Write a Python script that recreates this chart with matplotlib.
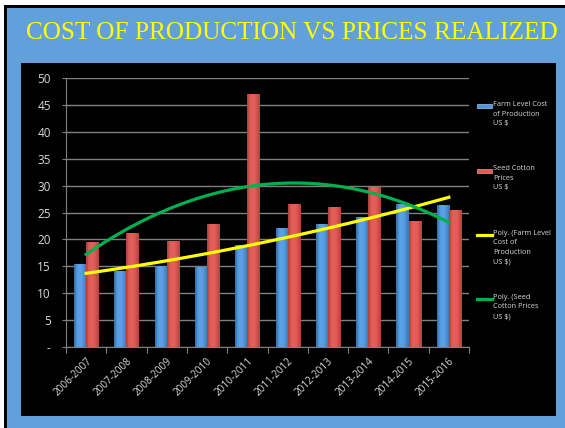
import numpy as np
import matplotlib
matplotlib.use('Agg')
import matplotlib.pyplot as plt
from matplotlib.patches import Rectangle
from matplotlib.lines import Line2D

# dados
safras = ['2006-2007', '2007-2008', '2008-2009', '2009-2010', '2010-2011',
          '2011-2012', '2012-2013', '2013-2014', '2014-2015', '2015-2016']
custo = [15.4, 14.1, 15.1, 14.9, 19.0, 22.1, 22.9, 24.2, 26.6, 26.4]
preco = [19.5, 21.2, 19.7, 22.9, 47.0, 26.6, 26.0, 29.8, 23.4, 25.5]
yticks = [0, 5, 10, 15, 20, 25, 30, 35, 40, 45, 50]
ylabels = ['-', '5', '10', '15', '20', '25', '30', '35', '40', '45', '50']

W, H = 565, 428
fig = plt.figure(figsize=(W / 100, H / 100), dpi=100)
fig.patch.set_facecolor('white')

def box(x0, y0, x1, y1, cor):
    # retângulo em pixels (origem no topo)
    fig.patches.append(Rectangle((x0 / W, 1 - y1 / H), (x1 - x0) / W, (y1 - y0) / H,
                                 transform=fig.transFigure, facecolor=cor,
                                 edgecolor='none', zorder=-5))

box(4, 5, W, H, 'black')
box(7, 8, W, H, '#62a0dc')
box(21, 63, 556, 416, 'black')

fig.text(292 / W, 1 - 33 / H, 'COST OF PRODUCTION VS PRICES REALIZED',
         family='Liberation Serif', color='#ffff00', fontsize=18.2,
         ha='center', va='center')

ax = fig.add_axes([66 / W, 1 - 347 / H, (469 - 66) / W, (347 - 78) / H])
ax.set_zorder(2)
ax.set_facecolor('black')

x = np.arange(len(safras))
w = 0.3

def barras(pos, vals, escuro, claro):
    bars = ax.bar(pos, vals, width=w, color=claro, edgecolor='none', zorder=2)
    grad = np.array([[0.2, 0.75, 0.95, 1.0, 0.95, 0.8, 0.55, 0.3]])
    cmap = matplotlib.colors.LinearSegmentedColormap.from_list('g', [escuro, claro])
    for b in bars:
        im = ax.imshow(grad, cmap=cmap, aspect='auto', zorder=2.1, vmin=0, vmax=1,
                       extent=[b.get_x(), b.get_x() + b.get_width(), 0, b.get_height()])
        im.set_clip_path(b)
    return bars

barras(x - w / 2, custo, '#2f68a4', '#5aa2e6')
barras(x + w / 2, preco, '#a83c36', '#e4605a')

# linhas de tendência polinomiais (ordem 2)
xs = np.linspace(0, len(safras) - 1, 200)
ax.plot(xs, np.polyval(np.polyfit(x, custo, 2), xs), color='#ffff00', lw=2.3, zorder=3)
ax.plot(xs, np.polyval(np.polyfit(x, preco, 2), xs), color='#00b050', lw=2.3, zorder=3)

ax.set_xlim(-0.5, len(safras) - 0.5)
ax.set_ylim(0, 50)
ax.set_yticks(yticks)
ax.set_yticklabels(ylabels)
ax.yaxis.grid(True, color='#808080', lw=1.0, zorder=0)
ax.set_axisbelow(True)
ax.set_xticks(np.arange(-0.5, len(safras), 1.0))
ax.set_xticklabels([])
ax.set_xticks(x, minor=True)
ax.set_xticklabels(safras, minor=True, rotation=45, ha='right', va='top',
                   rotation_mode='anchor', family='Open Sans', fontsize=7.2,
                   color='#d9d9d9')
ax.tick_params(axis='x', which='major', length=4, color='#808080', direction='out')
ax.tick_params(axis='x', which='minor', length=0, pad=6)
ax.tick_params(axis='y', length=3, color='#808080', pad=8, labelcolor='#d9d9d9',
               labelsize=8.5)
for lab in ax.get_yticklabels():
    lab.set_family('Open Sans')
for s in ['top', 'right']:
    ax.spines[s].set_visible(False)
for s in ['left', 'bottom']:
    ax.spines[s].set_color('#808080')

# legenda manual
itens = [('bar', '#4f94dc', 'Farm Level Cost\nof Production\nUS \\$'),
         ('bar', '#e05a52', 'Seed Cotton\nPrices\nUS \\$'),
         ('line', '#ffff00', 'Poly. (Farm Level\nCost of\nProduction\nUS \\$)'),
         ('line', '#00b050', 'Poly. (Seed\nCotton Prices\nUS \\$)')]
ys = [106, 170.5, 235, 299]
for (tipo, cor, txt), yy in zip(itens, ys):
    if tipo == 'bar':
        fig.patches.append(Rectangle((477 / W, 1 - (yy + 2) / H), 15 / W, 4 / H,
                                     transform=fig.transFigure, facecolor=cor,
                                     edgecolor='#9cc8f0' if cor == '#4f94dc' else '#f09a94',
                                     lw=0.5, zorder=2))
    else:
        fig.lines.append(Line2D([477 / W, 492 / W], [1 - yy / H, 1 - yy / H],
                                transform=fig.transFigure, color=cor, lw=2.3))
    fig.text(493 / W, 1 - (yy - 5) / H, txt, family='Open Sans', fontsize=5.3,
             color='#d9d9d9', ha='left', va='top', linespacing=1.5)

fig.savefig('out.png', dpi=100, facecolor=fig.get_facecolor())
